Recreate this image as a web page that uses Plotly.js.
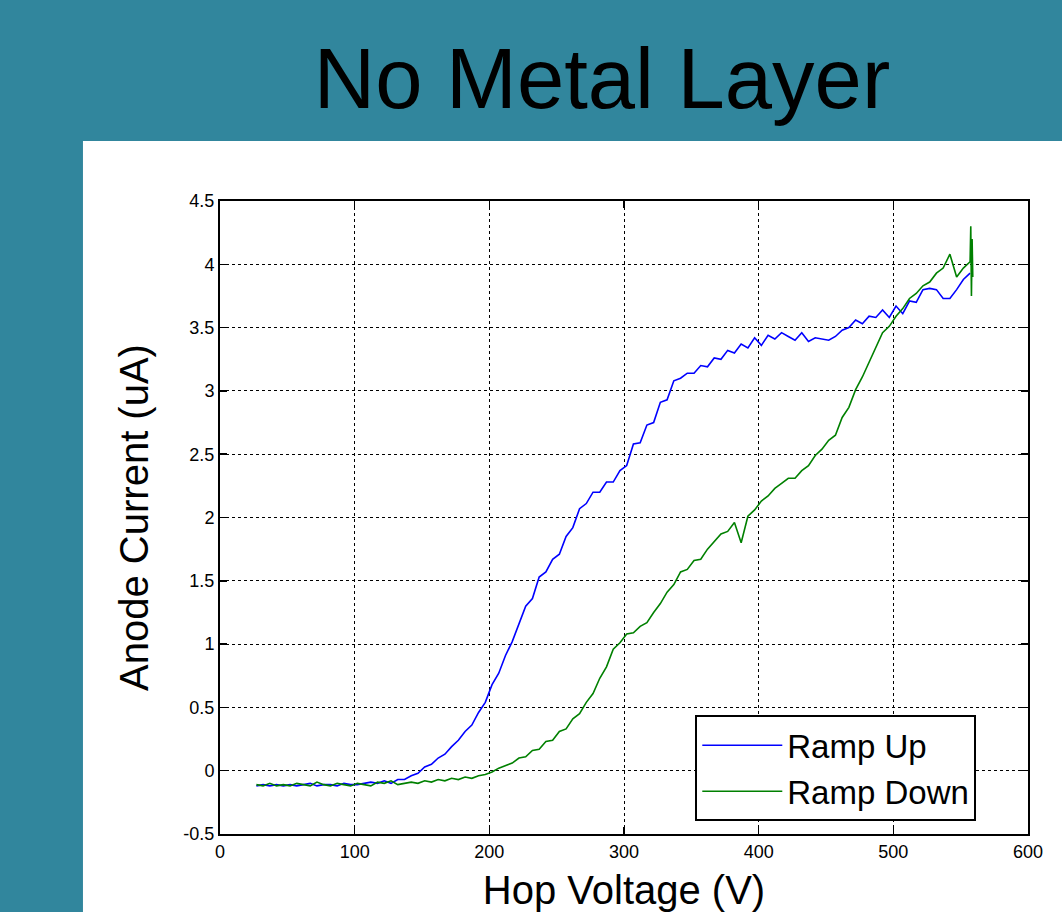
<!DOCTYPE html>
<html>
<head>
<meta charset="utf-8">
<script src="https://cdn.plot.ly/plotly-3.0.1.min.js"></script>
<style>html,body{margin:0;padding:0;background:#31869d;}#chart{width:1062px;height:912px;}</style>
</head>
<body>
<div id="chart"></div>
<script>
const voltage = [27,32,37,42,47,52,57,62,67,72,77,82,87,92,97,102,107,112,117,122,127,132,137,142,147,152,157,162,167,172,177,182,187,192,197,202,207,212,217,222,227,232,237,242,247,252,257,262,267,272,277,282,287,292,297,302,307,312,317,322,327,332,337,342,347,352,357,362,367,372,377,382,387,392,397,402,407,412,417,422,427,432,437,442,447,452,457,462,467,472,477,482,487,492,497,502,507,512,517,522,527,532,537,542,547,552,557];

const rampUp = [-0.12,-0.11,-0.12,-0.11,-0.12,-0.11,-0.12,-0.11,-0.10,-0.12,-0.11,-0.11,-0.12,-0.10,-0.11,-0.11,-0.10,-0.09,-0.10,-0.08,-0.10,-0.07,-0.07,-0.04,-0.02,0.03,0.05,0.10,0.13,0.19,0.24,0.31,0.36,0.46,0.54,0.68,0.77,0.91,1.02,1.16,1.30,1.36,1.53,1.57,1.67,1.71,1.85,1.92,2.07,2.11,2.20,2.20,2.28,2.28,2.37,2.41,2.58,2.59,2.73,2.75,2.91,2.93,3.08,3.10,3.14,3.14,3.20,3.19,3.26,3.25,3.32,3.30,3.37,3.34,3.42,3.36,3.44,3.41,3.46,3.43,3.40,3.46,3.39,3.42,3.41,3.40,3.43,3.48,3.50,3.56,3.53,3.59,3.58,3.64,3.58,3.67,3.61,3.71,3.70,3.80,3.81,3.80,3.73,3.73,3.80,3.88,3.93];

const rampDown = [-0.11,-0.12,-0.10,-0.12,-0.11,-0.12,-0.10,-0.11,-0.12,-0.09,-0.11,-0.12,-0.10,-0.11,-0.12,-0.10,-0.11,-0.12,-0.09,-0.10,-0.08,-0.11,-0.10,-0.09,-0.10,-0.08,-0.09,-0.07,-0.08,-0.06,-0.07,-0.05,-0.06,-0.04,-0.03,-0.01,0.02,0.04,0.06,0.10,0.11,0.16,0.17,0.23,0.24,0.31,0.33,0.41,0.45,0.54,0.61,0.73,0.82,0.96,1.01,1.08,1.09,1.14,1.17,1.25,1.32,1.41,1.47,1.57,1.59,1.66,1.67,1.75,1.81,1.87,1.89,1.96,1.80,2.01,2.06,2.13,2.17,2.23,2.27,2.31,2.31,2.37,2.41,2.49,2.54,2.61,2.65,2.79,2.87,3.01,3.11,3.23,3.34,3.46,3.51,3.59,3.65,3.73,3.77,3.83,3.86,3.93,3.97,4.08,3.90,3.97,4.02];

const spikeVoltage = [557.5,558,558.5,559];
const spikeCurrent = [4.30,3.75,4.20,3.90];

const xTicks = [0,100,200,300,400,500,600];
const xTickLabels = ['0','100','200','300','400','500','600'];
const yTicks = [-0.5,0,0.5,1,1.5,2,2.5,3,3.5,4,4.5];
const yTickLabels = ['-0.5','0','0.5','1','1.5','2','2.5','3','3.5','4','4.5'];

const font = 'Liberation Sans, Arial, sans-serif';

const traces = [
  {x: voltage, y: rampUp, type: 'scatter', mode: 'lines', name: 'Ramp Up',
   line: {color: '#0000ff', width: 1.6}},
  {x: voltage.concat(spikeVoltage), y: rampDown.concat(spikeCurrent), type: 'scatter', mode: 'lines', name: 'Ramp Down',
   line: {color: '#008000', width: 1.6}}
];

const axisCommon = {
  showline: true, linecolor: '#000', linewidth: 2, mirror: 'ticks',
  ticks: 'inside', ticklen: 7, tickwidth: 1.5, tickcolor: '#000',
  showgrid: true, gridcolor: '#000', gridwidth: 1, griddash: 'dot',
  zeroline: false, tickfont: {family: font, size: 18, color: '#000'}
};

const layout = {
  width: 1062, height: 912,
  paper_bgcolor: '#31869d', plot_bgcolor: '#ffffff',
  margin: {l: 220, r: 34, t: 201, b: 78},
  showlegend: true,
  title: {text: 'No Metal Layer', font: {family: font, size: 85, color: '#000'},
          x: 0.4728, xanchor: 'center', xref: 'paper', y: 1 - 78/912, yanchor: 'middle', yref: 'container'},
  xaxis: Object.assign({}, axisCommon, {range: [0, 600], tickvals: xTicks, ticktext: xTickLabels,
    title: {text: 'Hop Voltage (V)', font: {family: font, size: 40, color: '#000'}, standoff: 20}}),
  yaxis: Object.assign({}, axisCommon, {range: [-0.5, 4.5], tickvals: yTicks, ticktext: yTickLabels,
    title: {text: 'Anode Current (uA)', font: {family: font, size: 40, color: '#000'}, standoff: 22}}),
  legend: {x: 0.936, xanchor: 'right', y: 0.02, yanchor: 'bottom',
           bgcolor: '#ffffff', bordercolor: '#000', borderwidth: 2,
           font: {family: font, size: 33, color: '#000'}, itemwidth: 80},
  shapes: [
    {type: 'rect', xref: 'paper', yref: 'paper', x0: -0.1696, x1: 1.05, y0: -0.13, y1: 1.0948,
     fillcolor: '#ffffff', line: {width: 0}, layer: 'below'}
  ]
};

Plotly.newPlot('chart', traces, layout, {displayModeBar: false, staticPlot: true});
</script>
</body>
</html>
